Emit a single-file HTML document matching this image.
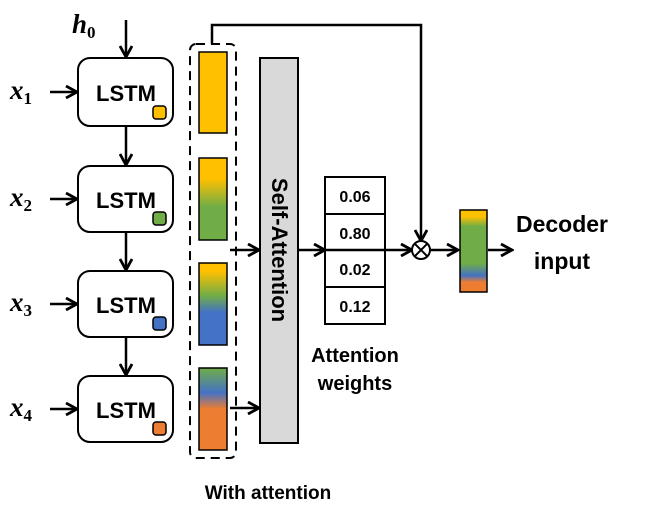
<!DOCTYPE html><html><head><style>body{margin:0;background:#fff}</style></head><body>
<svg width="645" height="526" viewBox="0 0 645 526" xmlns="http://www.w3.org/2000/svg" font-family="Liberation Sans, sans-serif" font-weight="bold">
<defs>
<marker id="a" markerWidth="14" markerHeight="14" refX="12" refY="7" orient="auto" markerUnits="userSpaceOnUse"><path d="M1,1 L12,7 L1,13" fill="none" stroke="#000" stroke-width="2.8"/></marker>
<linearGradient id="g1" x1="0" y1="0" x2="0" y2="1"><stop offset="0" stop-color="#ffc000"/><stop offset="1" stop-color="#ffc000"/></linearGradient>
<linearGradient id="g2" x1="0" y1="0" x2="0" y2="1"><stop offset="0.25" stop-color="#ffc000"/><stop offset="0.6" stop-color="#70ad47"/><stop offset="1" stop-color="#70ad47"/></linearGradient>
<linearGradient id="g3" x1="0" y1="0" x2="0" y2="1"><stop offset="0.1" stop-color="#ffc000"/><stop offset="0.4" stop-color="#70ad47"/><stop offset="0.6" stop-color="#4472c4"/><stop offset="1" stop-color="#4472c4"/></linearGradient>
<linearGradient id="g4" x1="0" y1="0" x2="0" y2="1"><stop offset="0" stop-color="#70ad47"/><stop offset="0.3" stop-color="#4472c4"/><stop offset="0.5" stop-color="#ed7d31"/><stop offset="1" stop-color="#ed7d31"/></linearGradient>
<linearGradient id="g5" x1="0" y1="0" x2="0" y2="1"><stop offset="0.08" stop-color="#ffc000"/><stop offset="0.2" stop-color="#70ad47"/><stop offset="0.65" stop-color="#70ad47"/><stop offset="0.8" stop-color="#4472c4"/><stop offset="0.88" stop-color="#ed7d31"/></linearGradient>
</defs>
<g stroke="#000" stroke-width="2.5" fill="none">
<line x1="126" y1="20" x2="126" y2="57" marker-end="url(#a)"/>
<line x1="126" y1="126" x2="126" y2="165" marker-end="url(#a)"/>
<line x1="126" y1="232" x2="126" y2="270" marker-end="url(#a)"/>
<line x1="126" y1="337" x2="126" y2="375" marker-end="url(#a)"/>
<line x1="50" y1="92" x2="77" y2="92" marker-end="url(#a)"/>
<line x1="50" y1="199" x2="77" y2="199" marker-end="url(#a)"/>
<line x1="50" y1="304" x2="77" y2="304" marker-end="url(#a)"/>
<line x1="50" y1="409" x2="77" y2="409" marker-end="url(#a)"/>
<line x1="230" y1="250" x2="259" y2="250" marker-end="url(#a)"/>
<line x1="230" y1="408" x2="259" y2="408" marker-end="url(#a)"/>
<line x1="298" y1="250" x2="325" y2="250" marker-end="url(#a)"/>
<line x1="385" y1="250" x2="412" y2="250" marker-end="url(#a)"/>
<line x1="430" y1="250" x2="458" y2="250" marker-end="url(#a)"/>
<line x1="488" y1="250" x2="512" y2="250" marker-end="url(#a)"/>
<polyline points="212,44 212,25 421,25 421,241" marker-end="url(#a)"/>
</g>
<g stroke="#000" stroke-width="2" fill="#fff">
<rect x="78" y="58" width="95" height="68" rx="12"/>
<rect x="78" y="166" width="95" height="66" rx="12"/>
<rect x="78" y="271" width="95" height="66" rx="12"/>
<rect x="78" y="376" width="95" height="66" rx="12"/>
<rect x="153" y="106" width="13" height="13" rx="3" fill="#ffc000" stroke-width="1.5"/>
<rect x="153" y="212" width="13" height="13" rx="3" fill="#70ad47" stroke-width="1.5"/>
<rect x="153" y="317" width="13" height="13" rx="3" fill="#4472c4" stroke-width="1.5"/>
<rect x="153" y="422" width="13" height="13" rx="3" fill="#ed7d31" stroke-width="1.5"/>
<rect x="199" y="52" width="28" height="81" fill="url(#g1)" stroke-width="1.5"/>
<rect x="199" y="158" width="28" height="82" fill="url(#g2)" stroke-width="1.5"/>
<rect x="199" y="263" width="28" height="82" fill="url(#g3)" stroke-width="1.5"/>
<rect x="199" y="368" width="28" height="82" fill="url(#g4)" stroke-width="1.5"/>
<rect x="460" y="210" width="27" height="82" fill="url(#g5)" stroke-width="1.5"/>
<rect x="190" y="44" width="46" height="414" rx="6" fill="none" stroke-dasharray="9,6"/>
<rect x="260" y="58" width="38" height="385" fill="#d9d9d9"/>
<rect x="325" y="177" width="60" height="147"/>
<line x1="325" y1="214" x2="385" y2="214"/><line x1="325" y1="287" x2="385" y2="287"/>
<circle cx="421" cy="250" r="9"/>
<path d="M414.6,243.6 L427.4,256.4 M427.4,243.6 L414.6,256.4"/>
</g>
<line x1="325" y1="250" x2="385" y2="250" stroke="#000" stroke-width="2.5"/>
<g font-size="22" text-anchor="middle">
<text x="126" y="101">LSTM</text><text x="126" y="208">LSTM</text><text x="126" y="313">LSTM</text><text x="126" y="418">LSTM</text>
</g>
<text transform="translate(272,250) rotate(90)" text-anchor="middle" font-size="22">Self-Attention</text>
<g font-size="16" text-anchor="middle">
<text x="355" y="202">0.06</text><text x="355" y="239">0.80</text><text x="355" y="275">0.02</text><text x="355" y="312">0.12</text>
</g>
<g font-size="20" text-anchor="middle">
<text x="355" y="362">Attention</text><text x="355" y="390">weights</text>
<text x="268" y="499" font-size="19">With attention</text>
</g>
<g font-size="23" text-anchor="middle"><text x="562" y="232">Decoder</text><text x="562" y="269">input</text></g>
<g font-family="Liberation Serif, serif" font-style="italic" font-size="27">
<text x="72" y="33">h<tspan font-size="17" dy="5" font-style="normal">0</tspan></text>
<text x="10" y="99">x<tspan font-size="17" dy="5" font-style="normal">1</tspan></text>
<text x="10" y="206">x<tspan font-size="17" dy="5" font-style="normal">2</tspan></text>
<text x="10" y="311">x<tspan font-size="17" dy="5" font-style="normal">3</tspan></text>
<text x="10" y="416">x<tspan font-size="17" dy="5" font-style="normal">4</tspan></text>
</g>
</svg></body></html>
